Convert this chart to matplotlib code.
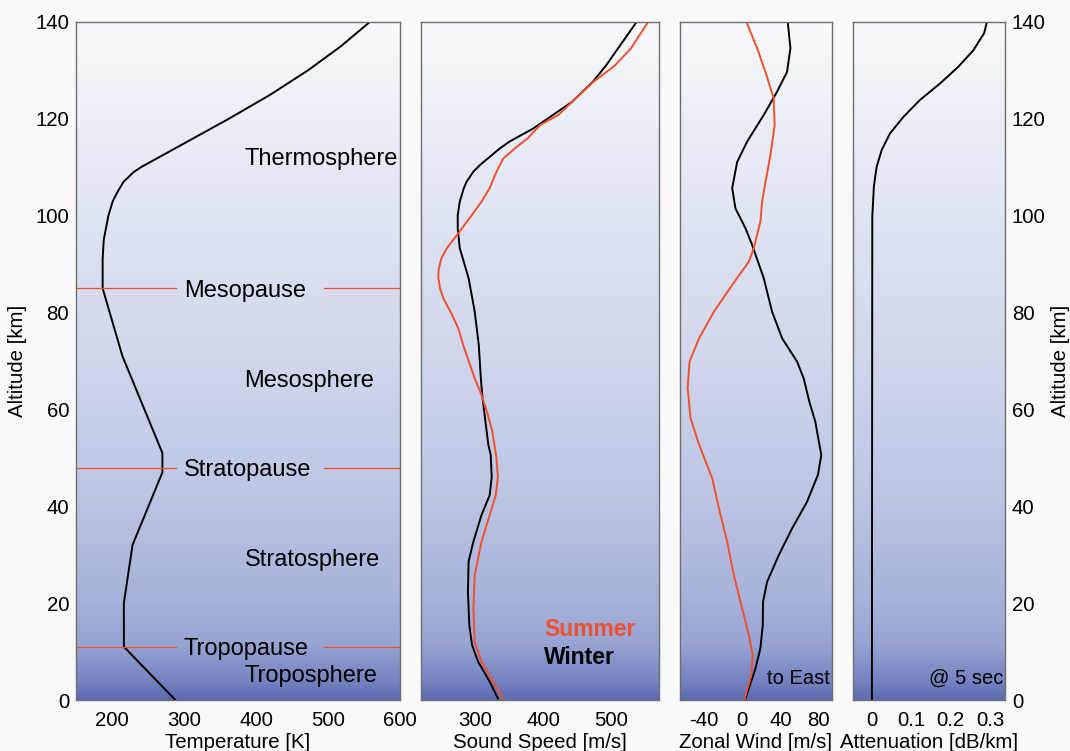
import numpy as np
import matplotlib
matplotlib.use("Agg")
import matplotlib.pyplot as plt
from matplotlib.colors import LinearSegmentedColormap

plt.rcParams["font.family"] = ["Liberation Sans", "DejaVu Sans"]
plt.rcParams["axes.unicode_minus"] = False

RED = "#f0502d"
FS = 14.7

# --- data (altitude in km) ---
temp_z = [0, 11, 20, 32, 47, 51, 71, 85, 91, 95, 100, 103, 105, 107, 108, 109, 110,
          115, 120, 125, 130, 135, 140]
temp_T = [288, 216.5, 216.5, 228.5, 270, 270, 214.5, 187, 187, 188.5, 195, 201, 208, 216,
          223, 230, 240, 301, 362, 420, 472, 518, 558]

winter_c_z = [0.35, 3.8, 7.9, 11.4, 15.5, 22.4, 28.6, 32.7, 38.2, 42.3, 46, 50.6, 52.7, 59.5,
              63, 66.4, 73.3, 80.2, 87.1, 93.3, 97.4, 100.1, 102.9, 105.7, 107, 109.1, 110.5,
              111.8, 113.9, 115.3, 118, 120.8, 123.5, 127.7, 131, 134.6, 140]
winter_c = [333, 321, 304, 295, 291, 289, 290, 297, 309, 321, 324, 322.5, 319, 313,
            310, 308, 305, 299, 290, 277, 274, 274, 277, 283, 287, 297, 307,
            318, 336, 350, 385, 414, 442, 473, 492, 510, 537]

summer_c_z = [0.35, 3.8, 7.9, 12, 18.9, 25.8, 32.7, 38.2, 42.3, 46, 49.9, 55.4, 59.5, 63,
              66.4, 73.3, 76.7, 80, 82.9, 85, 87.1, 89, 91.2, 93.3, 96.4, 100.1, 102.9, 105.7,
              109.1, 111.8, 113.9, 116, 118.7, 120.8, 123.5, 127.7, 131, 134.6, 140]
summer_c = [340, 326, 309, 299, 297, 299, 309, 321, 330, 333, 331, 325, 317, 309,
            299, 282, 275, 264, 253, 248, 245.5, 246, 250, 258, 275, 294.6, 309, 321,
            331, 341, 358, 377, 395, 422, 442, 474, 505, 529, 554]

winter_u_z = [0.35, 2.4, 6.5, 10.7, 15.5, 20.3, 24.4, 29.9, 35.4, 40.9, 46.5, 50.6, 57.5,
              61.6, 66.4, 69.9, 74.7, 80.2, 87.1, 94, 97.4, 101.5, 105.7, 111.1, 115.3,
              120.8, 125.6, 129.7, 134.6, 140]
winter_u = [3.5, 7, 13.9, 19.1, 21.6, 21.9, 26.1, 38.3, 52.2, 67.8, 79.3, 82.8, 76.5,
            70.3, 64.4, 57.4, 41.8, 31.3, 22.6, 10.4, 3.5, -7, -10.4, -5.2, 5.2,
            22.6, 36.5, 47, 50.5, 47.7]

summer_u_z = [0.35, 5.2, 9.3, 13.4, 18.9, 25.8, 32.7, 39.6, 45.8, 52.7, 58.2, 64.4, 69.9,
              74.7, 80.2, 85.7, 90.5, 93.3, 98.8, 102.9, 107, 112.5, 118.7, 124.2, 129.7,
              134.6, 140]
summer_u = [2.8, 9.7, 11.1, 7, 0, -8.7, -15.7, -24.3, -31.3, -45, -54, -57, -55,
            -45, -29.5, -10.4, 7, 12.2, 19.1, 20.9, 24.4, 29.6, 34, 33, 24.4,
            15.7, 4.5]

atten_z = [0, 99.8, 106, 110.1, 113.6, 117, 120.4, 123.9, 127.3, 130.8, 134.2, 137.7, 140]
atten = [0, 0.001, 0.005, 0.012, 0.025, 0.046, 0.08, 0.122, 0.173, 0.22, 0.258, 0.285, 0.292]

# layer boundaries and labels
pause_z = [85, 48, 11]
pause_names = ["Mesopause", "Stratopause", "Tropopause"]
layer_names = ["Thermosphere", "Mesosphere", "Stratosphere", "Troposphere"]
layer_z = [112.3, 66.3, 29.5, 5.4]

bg = LinearSegmentedColormap.from_list("sky", [
    (0.0, "#5d6cb0"), (0.025, "#7482c0"), (0.08, "#97a3d2"), (0.15, "#a8b2da"),
    (0.3, "#bdc5e3"), (0.5, "#d0d6ec"), (0.72, "#e0e5f2"), (0.88, "#edf0f7"),
    (1.0, "#f8f9fb")])

fig = plt.figure(figsize=(10.7, 7.51), dpi=100, facecolor="#f9f9f9")
bot, hgt = 51 / 751, 678 / 751
specs = [(76, 324, (150, 600)), (421, 238, (220, 570)),
         (680, 152, (-65, 94)), (853, 152, (-0.048, 0.338))]
axes = []
for left, w, xl in specs:
    ax = fig.add_axes([left / 1070, bot, w / 1070, hgt])
    ax.set_xlim(*xl)
    ax.set_ylim(0, 140)
    ax.imshow(np.linspace(0, 1, 256).reshape(-1, 1), cmap=bg, origin="lower",
              extent=[xl[0], xl[1], 0, 140], aspect="auto", zorder=0)
    for s in ax.spines.values():
        s.set_color("#6e6e6e")
        s.set_linewidth(1.0)
    ax.tick_params(length=0, labelsize=FS, pad=8)
    ax.tick_params(axis="y", pad=5)
    ax.set_yticks(range(0, 141, 20))
    axes.append(ax)

ax1, ax2, ax3, ax4 = axes

# temperature
ax1.plot(temp_T, temp_z, color="black", lw=1.4)
for z, name in zip(pause_z, pause_names):
    ax1.plot([150, 289], [z, z], color=RED, lw=0.9)
    ax1.plot([495, 600], [z, z], color=RED, lw=0.9)
    ax1.text(300, z - 0.5, name, fontsize=17, ha="left", va="center")
for z, name in zip(layer_z, layer_names):
    ax1.text(384, z - 0.5, name, fontsize=17, ha="left", va="center")
ax1.set_xticks([200, 300, 400, 500, 600])
ax1.set_xlabel("Temperature [K]", fontsize=FS, labelpad=2)
ax1.set_ylabel("Altitude [km]", fontsize=FS, labelpad=6)

# sound speed
ax2.plot(winter_c, winter_c_z, color="black", lw=1.4)
ax2.plot(summer_c, summer_c_z, color=RED, lw=1.4)
ax2.set_xticks([300, 400, 500])
ax2.set_yticklabels([])
ax2.set_xlabel("Sound Speed [m/s]", fontsize=FS, labelpad=2)
ax2.text(0.517, 0.104, "Summer", color=RED, fontsize=16.5, fontweight="bold",
         ha="left", va="center", transform=ax2.transAxes)
ax2.text(0.517, 0.062, "Winter", color="black", fontsize=16.5, fontweight="bold",
         ha="left", va="center", transform=ax2.transAxes)

# zonal wind
ax3.plot(winter_u, winter_u_z, color="black", lw=1.4)
ax3.plot(summer_u, summer_u_z, color=RED, lw=1.4)
ax3.set_xticks([-40, 0, 40, 80])
ax3.set_yticklabels([])
ax3.set_xlabel("Zonal Wind [m/s]", fontsize=FS, labelpad=2)
ax3.text(0.985, 0.032, "to East", fontsize=14.5, ha="right", va="center",
         transform=ax3.transAxes)

# attenuation
ax4.plot(atten, atten_z, color="black", lw=1.4)
ax4.set_xticks([0, 0.1, 0.2, 0.3])
ax4.set_xticklabels(["0", "0.1", "0.2", "0.3"])
ax4.yaxis.tick_right()
ax4.yaxis.set_label_position("right")
ax4.set_ylabel("Altitude [km]", fontsize=FS, labelpad=4)
ax4.set_xlabel("Attenuation [dB/km]", fontsize=FS, labelpad=2)
ax4.text(0.987, 0.032, "@ 5 sec", fontsize=14.5, ha="right", va="center",
         transform=ax4.transAxes)

fig.savefig("out.png", dpi=100, facecolor=fig.get_facecolor())
